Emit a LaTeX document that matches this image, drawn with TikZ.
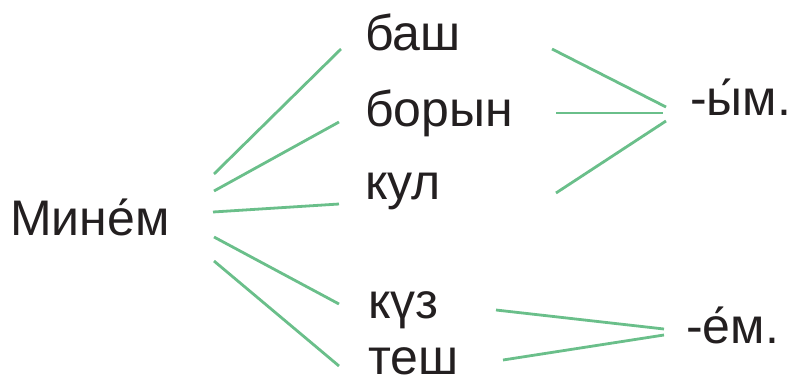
\documentclass[tikz,border=0pt]{standalone}
\usepackage{fontspec}
\setmainfont{Liberation Sans}
\usetikzlibrary{positioning}
\definecolor{Stem}{HTML}{6ABF8A}
\definecolor{Ink}{HTML}{231F20}

\begin{document}
\begin{tikzpicture}[x=1pt,y=-1pt,
	word/.style={anchor=base west,inner sep=0pt,text=Ink,font=\fontsize{50}{60}\selectfont},
	link/.style={draw=Stem,line width=2.8pt}]
	\useasboundingbox (0,0) rectangle (795,380);
	
	% words
	\node[word] (minem) at (10,235) {Мине́м};
	\node[word] (bash) at (365,50) {баш};
	\node[word] (boryn) at (365,126) {борын};
	\node[word] (kul) at (365,199) {кул};
	\node[word] (kuz) at (368,318) {күз};
	\node[word] (tesh) at (368,374) {теш};
	\node[word] (ym) at (690,115) {-ы́м.};
	\node[word] (em) at (686,343) {-е́м.};
	
	% line ends
	\coordinate (m1) at (214,174);
	\coordinate (m2) at (214,191);
	\coordinate (m3) at (213,212);
	\coordinate (m4) at (214,237);
	\coordinate (m5) at (214,261);
	\coordinate (bashL) at (341,49);
	\coordinate (borynL) at (339,122);
	\coordinate (kulL) at (339,204);
	\coordinate (kuzL) at (339,304);
	\coordinate (teshL) at (339,366);
	\coordinate (bashR) at (552,49);
	\coordinate (borynR) at (556,113);
	\coordinate (kulR) at (556,193);
	\coordinate (ym1) at (666,107);
	\coordinate (ym2) at (663,113);
	\coordinate (ym3) at (666,121);
	\coordinate (kuzR) at (496,310);
	\coordinate (teshR) at (503,360);
	\coordinate (em1) at (664,329);
	\coordinate (em2) at (664,335);
	
	\draw[link] (m1) -- (bashL);
	\draw[link] (m2) -- (borynL);
	\draw[link] (m3) -- (kulL);
	\draw[link] (m4) -- (kuzL);
	\draw[link] (m5) -- (teshL);
	\draw[link] (bashR) -- (ym1);
	\draw[link] (borynR) -- (ym2);
	\draw[link] (kulR) -- (ym3);
	\draw[link] (kuzR) -- (em1);
	\draw[link] (teshR) -- (em2);
\end{tikzpicture}
\end{document}
